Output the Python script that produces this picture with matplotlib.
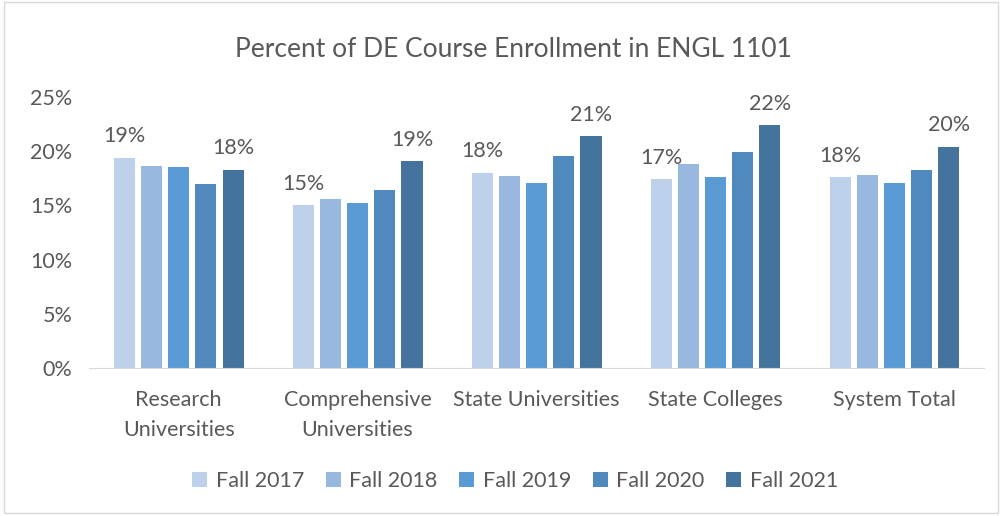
import matplotlib.pyplot as plt
from matplotlib.patches import Rectangle
import numpy as np

categories = ['Research\nUniversities', 'Comprehensive\nUniversities', 'State Universities',
              'State Colleges', 'System Total']
series = ['Fall 2017', 'Fall 2018', 'Fall 2019', 'Fall 2020', 'Fall 2021']
fall_2017 = [19.4, 15.0, 18.0, 17.4, 17.6]
fall_2018 = [18.6, 15.6, 17.7, 18.8, 17.8]
fall_2019 = [18.5, 15.2, 17.1, 17.6, 17.1]
fall_2020 = [17.0, 16.4, 19.6, 19.9, 18.3]
fall_2021 = [18.3, 19.1, 21.4, 22.4, 20.4]
values = [fall_2017, fall_2018, fall_2019, fall_2020, fall_2021]
colors = ['#BDD1EA', '#98B8E0', '#5B9BD5', '#4F89BD', '#44739E']

plt.rcParams['font.family'] = ['Lato', 'DejaVu Sans']
txt = '#595959'

fig = plt.figure(figsize=(10.02, 5.16), dpi=100)
fig.patches.append(Rectangle((0.004, 0.006), 0.992, 0.99, transform=fig.transFigure,
                             fill=False, edgecolor='#D9D9D9', linewidth=1))
ax = fig.add_axes([0.089, 0.287, 0.893, 0.525])

x = np.arange(len(categories))
step = 0.152
width = 0.118
for i, (name, vals, c) in enumerate(zip(series, values, colors)):
    pos = x + (i - 2) * step
    bars = ax.bar(pos, np.array(vals) / 100, width, color=c, label=name)
    if i in (0, 4):
        for p, v in zip(pos, vals):
            ax.text(p, v / 100 + 0.0105, f'{round(v):d}%', ha='center', va='bottom',
                    fontsize=15.5, color=txt)

ax.set_xlim(-0.5, len(categories) - 0.5)
ax.set_ylim(0, 0.25)
ax.set_yticks(np.arange(0, 0.26, 0.05))
ax.set_yticklabels([f'{int(round(t * 100))}%' for t in np.arange(0, 0.26, 0.05)])
ax.set_xticks(x)
ax.set_xticklabels(categories, linespacing=1.6)
ax.tick_params(axis='both', length=0, labelsize=15.5, colors=txt)
ax.tick_params(axis='x', pad=16)
ax.tick_params(axis='y', pad=12)
for s in ['top', 'right', 'left']:
    ax.spines[s].set_visible(False)
ax.spines['bottom'].set_color('#D9D9D9')

fig.text(0.512, 0.905, 'Percent of DE Course Enrollment in ENGL 1101', ha='center',
         va='center', fontsize=19, color=txt)
fig.legend(loc='center', bbox_to_anchor=(0.514, 0.068), ncol=5, frameon=False,
           fontsize=15.5, labelcolor=txt, handlelength=0.7, handleheight=0.7,
           columnspacing=1.0, handletextpad=0.4)

fig.savefig('out.png', dpi=100)
